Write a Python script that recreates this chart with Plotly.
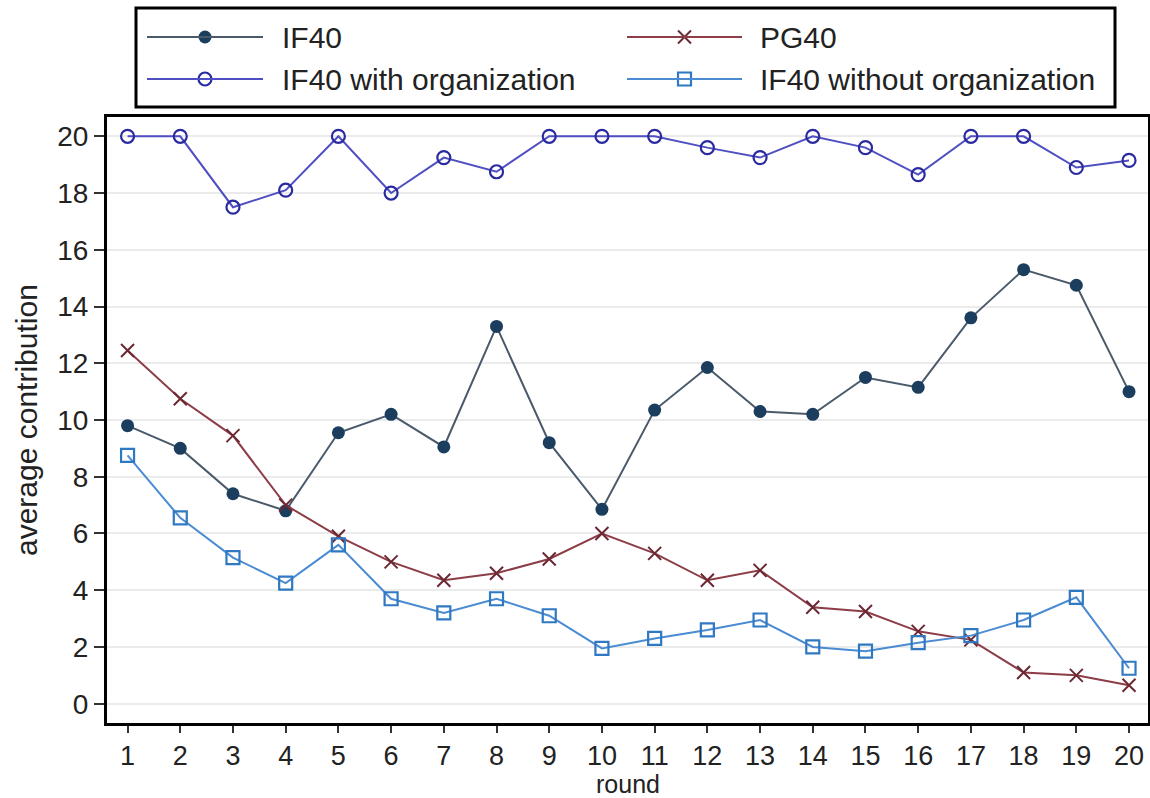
import plotly.graph_objects as go

# Average contribution per round, by treatment
rounds = list(range(1, 21))

if40 = [9.8, 9.0, 7.4, 6.8, 9.55, 10.2, 9.05, 13.3, 9.2, 6.85,
        10.35, 11.85, 10.3, 10.2, 11.5, 11.15, 13.6, 15.3, 14.75, 11.0]
pg40 = [12.45, 10.75, 9.45, 7.0, 5.9, 5.0, 4.35, 4.6, 5.1, 6.0,
        5.3, 4.35, 4.7, 3.4, 3.25, 2.55, 2.25, 1.1, 1.0, 0.65]
if40_with_org = [20.0, 20.0, 17.5, 18.1, 20.0, 18.0, 19.25, 18.75, 20.0, 20.0,
                 20.0, 19.6, 19.25, 20.0, 19.6, 18.65, 20.0, 20.0, 18.9, 19.15]
if40_without_org = [8.75, 6.55, 5.15, 4.25, 5.6, 3.7, 3.2, 3.7, 3.1, 1.95,
                    2.3, 2.6, 2.95, 2.0, 1.85, 2.15, 2.4, 2.95, 3.75, 1.25]

y_ticks = list(range(0, 21, 2))

FONT = "Liberation Sans, Arial, sans-serif"
W, H = 1150, 798

series = [
    dict(name="IF40", y=if40, line="#4a5a6b",
         marker=dict(symbol="circle", size=13, color="#1b3d5e",
                     line=dict(width=0))),
    dict(name="PG40", y=pg40, line="#8c3d48",
         marker=dict(symbol="x-thin", size=13, color="#6b2833",
                     line=dict(width=2, color="#6b2833"))),
    dict(name="IF40 with organization", y=if40_with_org, line="#4f4fc2",
         marker=dict(symbol="circle-open", size=13, color="#2a2aa0",
                     line=dict(width=2.2))),
    dict(name="IF40 without organization", y=if40_without_org, line="#4a8bd2",
         marker=dict(symbol="square-open", size=13, color="#2f78c2",
                     line=dict(width=2.2))),
]

fig = go.Figure()

for s in series:
    fig.add_trace(go.Scatter(
        x=rounds, y=s["y"], name=s["name"], mode="lines+markers",
        line=dict(color=s["line"], width=2), marker=s["marker"],
        showlegend=False, cliponaxis=False,
    ))

# Hand-built legend box (pixel coordinates on an overlay axis pair)
legend_rows = [(0, 0, 37), (1, 1, 37), (2, 0, 79), (3, 1, 79)]
col_x = [(147, 263, 280), (627, 742, 758)]
shapes = [dict(type="rect", xref="x2", yref="y2", x0=136, x1=1115, y0=8, y1=107,
               line=dict(color="black", width=3), fillcolor="white", layer="below")]
annotations = []
for idx, col, ypx in legend_rows:
    s = series[idx]
    x0, x1, tx = col_x[col]
    shapes.append(dict(type="line", xref="x2", yref="y2", x0=x0, x1=x1, y0=ypx, y1=ypx,
                       line=dict(color=s["line"], width=2)))
    fig.add_trace(go.Scatter(
        x=[(x0 + x1) / 2], y=[ypx], xaxis="x2", yaxis="y2", mode="markers",
        marker=s["marker"], showlegend=False, hoverinfo="skip",
    ))
    annotations.append(dict(xref="x2", yref="y2", x=tx, y=ypx, text=s["name"],
                            showarrow=False, xanchor="left", yanchor="middle",
                            font=dict(family=FONT, size=30, color="#222")))

# Axis titles
annotations.append(dict(xref="x2", yref="y2", x=26, y=420, text="average contribution",
                        textangle=-90, showarrow=False, xanchor="center", yanchor="middle",
                        font=dict(family=FONT, size=30, color="#222")))
annotations.append(dict(xref="x2", yref="y2", x=628, y=784, text="round",
                        showarrow=False, xanchor="center", yanchor="middle",
                        font=dict(family=FONT, size=25, color="#222")))

fig.update_layout(
    width=W, height=H,
    margin=dict(l=0, r=0, t=0, b=0),
    paper_bgcolor="white", plot_bgcolor="rgba(0,0,0,0)",
    font=dict(family=FONT, size=28, color="#222"),
    shapes=shapes, annotations=annotations,
    xaxis=dict(
        domain=[107 / W, 1148 / W], range=[0.61, 20.36],
        tickmode="array", tickvals=rounds, ticktext=[str(r) for r in rounds],
        ticks="outside", ticklen=7, tickwidth=2, tickcolor="#333",
        tickfont=dict(family=FONT, size=27, color="#222"),
        showgrid=False, zeroline=False,
        showline=True, linecolor="black", linewidth=3, mirror=True,
        automargin=False,
    ),
    yaxis=dict(
        domain=[(H - 723) / H, (H - 117) / H], range=[-0.68, 20.68],
        tickmode="array", tickvals=y_ticks, ticktext=[str(v) for v in y_ticks],
        ticks="outside", ticklen=10, tickwidth=2, tickcolor="#333",
        tickfont=dict(family=FONT, size=28, color="#222"),
        showgrid=True, gridcolor="#ebebeb", gridwidth=2, zeroline=False,
        showline=True, linecolor="black", linewidth=3, mirror=True,
        automargin=False,
    ),
    xaxis2=dict(domain=[0, 1], range=[0, W], anchor="y2", visible=False,
                fixedrange=True),
    yaxis2=dict(domain=[0, 1], range=[H, 0], anchor="x2", visible=False,
                fixedrange=True),
)

fig.write_html("out.html")
